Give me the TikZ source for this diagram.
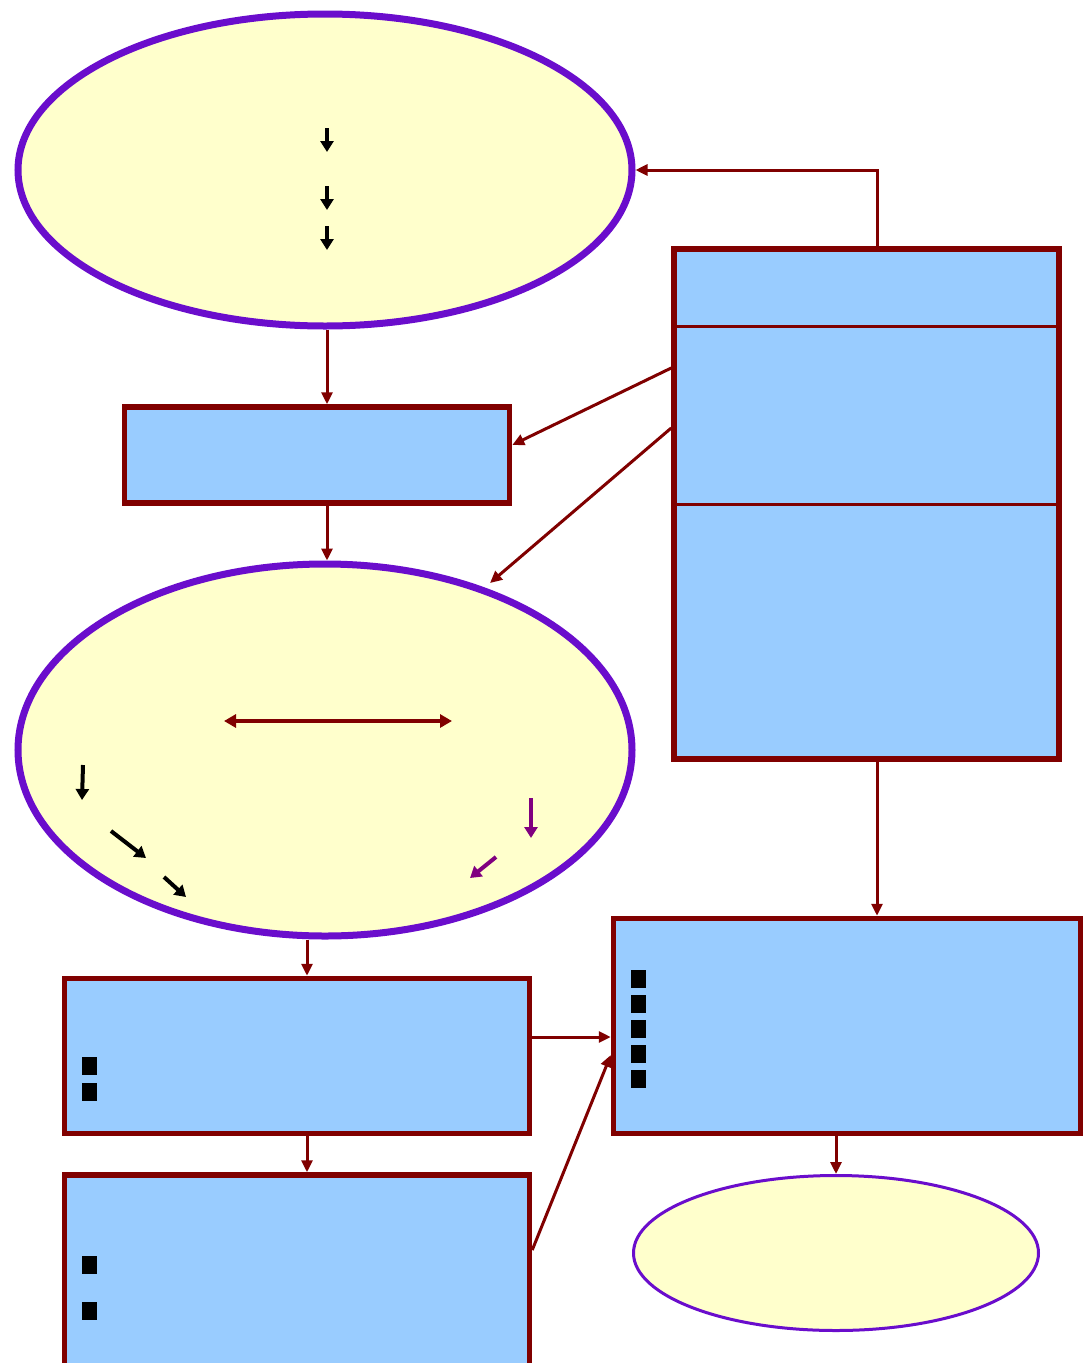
\documentclass[tikz,border=0pt]{standalone}
\usetikzlibrary{arrows.meta,shapes.geometric}
\definecolor{lav}{HTML}{6A0DCC}
\definecolor{maroon}{HTML}{800000}
\definecolor{paleblue}{HTML}{99CCFF}
\definecolor{cream}{HTML}{FFFFCC}
\definecolor{plum}{HTML}{800080}
\tikzset{
  oval/.style={draw=lav, line width=7pt, fill=cream},
  smalloval/.style={draw=lav, line width=3pt, fill=cream},
  panel/.style={draw=maroon, line width=5.5pt, fill=paleblue},
  link/.style={draw=maroon, line width=3pt, -{Triangle[length=12pt,width=11pt]}},
  tick/.style={line width=4pt, -{Triangle[length=11pt,width=13pt]}},
  bullet/.style={fill=black}
}
\begin{document}
\begin{tikzpicture}[x=1pt,y=-1pt]
\useasboundingbox (0,0) rectangle (1088,1363);
\fill[white] (0,0) rectangle (1088,1363);

% shapes
\node[oval, ellipse, minimum width=614pt, minimum height=312pt, inner sep=0pt] (top) at (325,170) {};
\node[panel, minimum width=385pt, minimum height=96pt, inner sep=0pt] (mid) at (317,455) {};
\node[panel, minimum width=385pt, minimum height=510pt, inner sep=0pt] (side) at (866.5,504) {};
\draw[maroon, line width=3pt] (side.west |- 0,326) -- (side.east |- 0,326);
\draw[maroon, line width=3pt] (side.west |- 0,504) -- (side.east |- 0,504);
\node[oval, ellipse, minimum width=614pt, minimum height=372pt, inner sep=0pt] (core) at (325,750) {};
\node[panel, minimum width=465pt, minimum height=155pt, inner sep=0pt] (lowA) at (297,1056) {};
\node[panel, minimum width=465pt, minimum height=200pt, inner sep=0pt] (lowB) at (297,1275) {};
\node[panel, minimum width=467pt, minimum height=215pt, inner sep=0pt] (right) at (847,1026) {};
\node[smalloval, ellipse, minimum width=405pt, minimum height=155pt, inner sep=0pt] (end) at (836,1253) {};

% connectors
\coordinate (bend) at (877,170);
\draw[link] (side.north -| 877,0) -- (bend) -- (top.east);
\draw[link] (top.south -| 327,0) -- (mid.north -| 327,0);
\draw[link] (mid.south -| 327,0) -- (core.north -| 327,0);
\coordinate (s1) at (side.west |- 0,368);
\coordinate (s2) at (side.west |- 0,428);
\coordinate (m1) at (mid.east |- 0,445);
\coordinate (c1) at (490,583);
\draw[link] (s1) -- (m1);
\draw[link] (s2) -- (c1);
\draw[link] (side.south -| 877,0) -- (right.north -| 877,0);
\draw[link] (core.south -| 307,0) -- (lowA.north -| 307,0);
\draw[link] (lowA.south -| 307,0) -- (lowB.north -| 307,0);
\draw[link] (lowA.east |- 0,1037) -- (right.west |- 0,1037);
\draw[link] (lowB.east |- 0,1250) -- (right.west |- 0,1055);
\draw[link] (right.south -| 836,0) -- (end.north);

% small arrows inside the top oval
\coordinate (a1) at (327,128); \coordinate (a2) at (327,152);
\coordinate (a3) at (327,186); \coordinate (a4) at (327,210);
\coordinate (a5) at (327,226); \coordinate (a6) at (327,250);
\draw[tick] (a1) -- (a2);
\draw[tick] (a3) -- (a4);
\draw[tick] (a5) -- (a6);

% arrows inside the central oval
\coordinate (h1) at (224,721); \coordinate (h2) at (452,721);
\draw[maroon, line width=3.5pt, {Triangle[length=12pt,width=13pt]}-{Triangle[length=12pt,width=13pt]}] (h1) -- (h2);
\coordinate (b1) at (83,765); \coordinate (b2) at (82,800);
\coordinate (b3) at (111,831); \coordinate (b4) at (146,858);
\coordinate (b5) at (164,877); \coordinate (b6) at (186,897);
\draw[tick] (b1) -- (b2);
\draw[tick] (b3) -- (b4);
\draw[tick] (b5) -- (b6);
\coordinate (p1) at (531,798); \coordinate (p2) at (531,838);
\coordinate (p3) at (496,857); \coordinate (p4) at (470,878);
\draw[tick, plum] (p1) -- (p2);
\draw[tick, plum] (p3) -- (p4);

% bullet marks
\foreach \y in {1057,1083} \fill[bullet] (82,\y) rectangle (97,\y+18);
\foreach \y in {1256,1302} \fill[bullet] (82,\y) rectangle (97,\y+18);
\foreach \y in {970,995,1020,1045,1070} \fill[bullet] (631,\y) rectangle (646,\y+18);
\end{tikzpicture}
\end{document}
